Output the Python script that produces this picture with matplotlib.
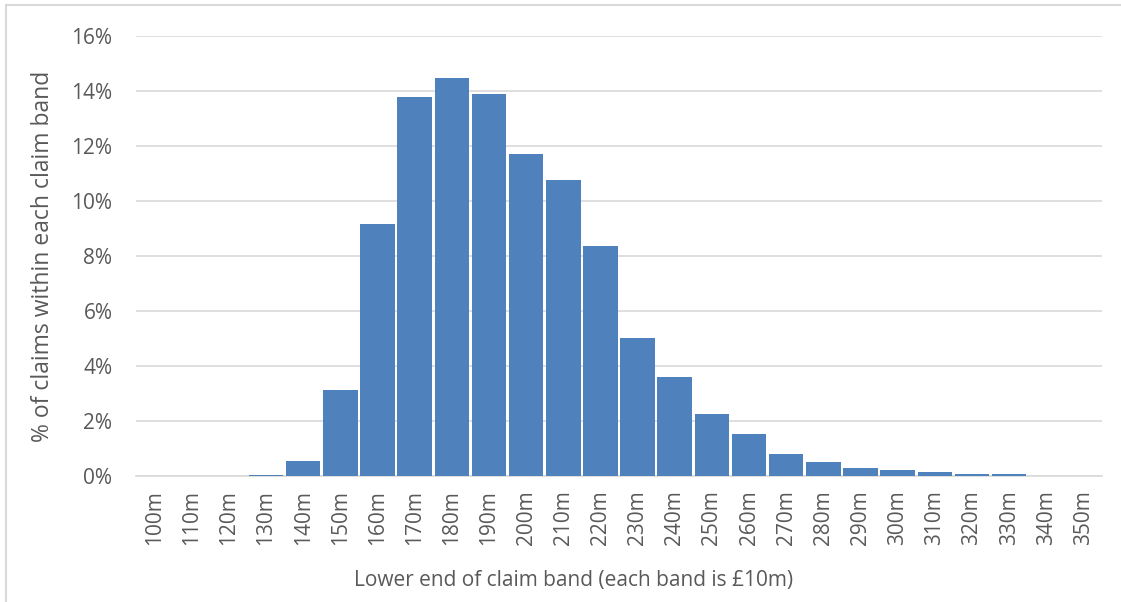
import matplotlib
matplotlib.use("Agg")
import matplotlib.pyplot as plt
import numpy as np
from matplotlib.patches import Rectangle
from matplotlib.ticker import FuncFormatter

# claim bands (lower end, £m) and share of claims in each band (%)
bands = [100, 110, 120, 130, 140, 150, 160, 170, 180, 190, 200, 210, 220,
         230, 240, 250, 260, 270, 280, 290, 300, 310, 320, 330, 340, 350]
share = [0.0, 0.0, 0.0, 0.05, 0.55, 3.12, 9.16, 13.78, 14.47, 13.89, 11.71,
         10.76, 8.35, 5.02, 3.60, 2.25, 1.52, 0.80, 0.51, 0.29, 0.22, 0.15,
         0.07, 0.07, 0.0, 0.0]
band_labels = [f"{b}m" for b in bands]

text_col = "#595959"
bar_col = "#4f81bd"
grid_col = "#d9d9d9"

plt.rcParams['font.family'] = ['Open Sans', 'DejaVu Sans']

fig = plt.figure(figsize=(11.21, 6.02), dpi=100)
fig.patches.append(Rectangle((6 / 1121, -0.1), 1.2, 1.1 - 5 / 602,
                             transform=fig.transFigure, fill=False,
                             edgecolor="#d9d9d9", linewidth=1.5))

ax = fig.add_axes([136 / 1121, 1 - 476 / 602, (1102 - 136) / 1121, (476 - 36) / 602])
x = np.arange(len(bands))
ax.bar(x, share, width=0.93, color=bar_col, zorder=3)

ax.set_xlim(-0.5, len(bands) - 0.5)
ax.set_ylim(0, 16)
ax.set_yticks(np.arange(0, 17, 2))
ax.yaxis.set_major_formatter(FuncFormatter(lambda v, p: f"{v:.0f}%"))
ax.set_xticks(x)
ax.set_xticklabels(band_labels, rotation=90)
ax.grid(axis="y", color=grid_col, linewidth=1.2, zorder=0)
for s in ["top", "right", "left"]:
    ax.spines[s].set_visible(False)
ax.spines["bottom"].set_color(grid_col)
ax.spines["bottom"].set_linewidth(1.2)
ax.tick_params(axis="both", length=0, colors=text_col)
ax.tick_params(axis="y", pad=17, labelsize=15)
ax.tick_params(axis="x", pad=10, labelsize=15)

ax.set_ylabel("% of claims within each claim band", color=text_col, fontsize=16.5, labelpad=12)
ax.set_xlabel("Lower end of claim band (each band is £10m)", color=text_col, fontsize=15)
ax.xaxis.set_label_coords(0.453, -0.213)

fig.savefig("out.png", dpi=100)
